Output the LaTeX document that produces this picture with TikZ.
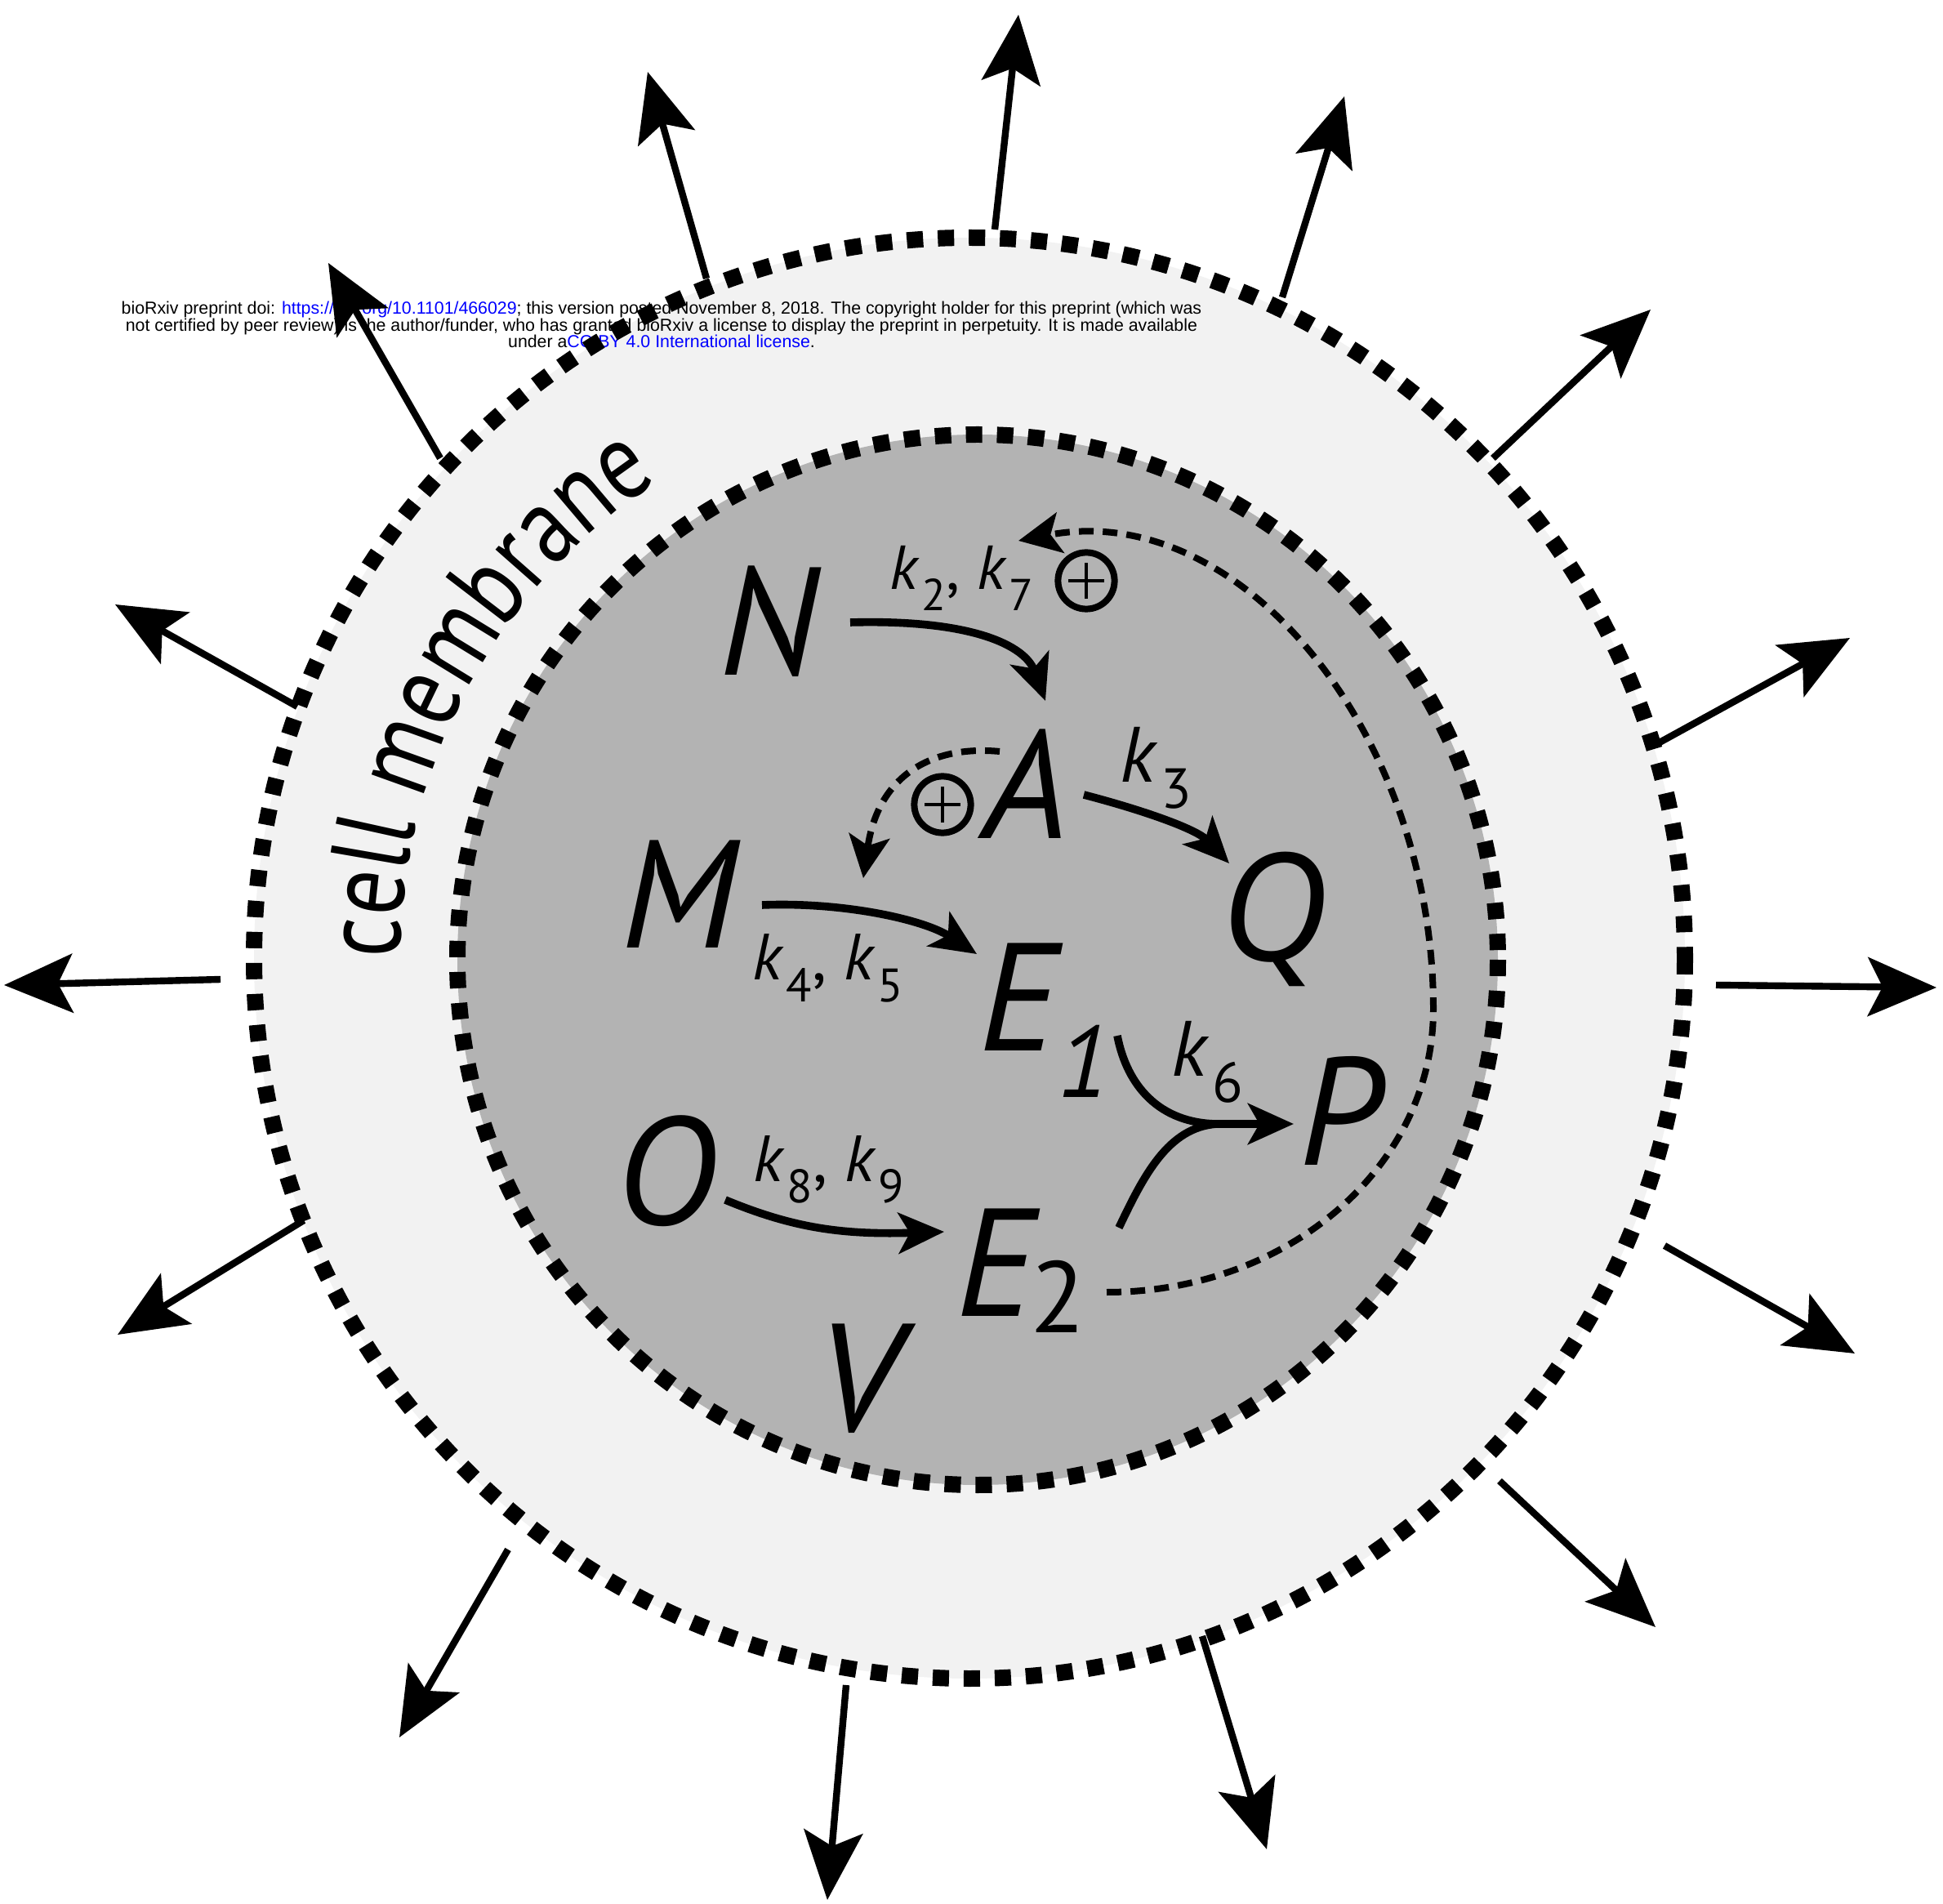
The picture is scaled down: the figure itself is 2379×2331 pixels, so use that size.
\documentclass[tikz,border=0pt]{standalone}
\usepackage{fontspec}
\usepackage{graphicx}
\setmainfont{PT Sans}
\newfontfamily\hdrfont{Liberation Sans}
\newfontfamily\cmfont[FakeStretch=0.8]{PT Sans}
\newfontfamily\qfont{Open Sans}
\usetikzlibrary{arrows.meta,decorations.text}
\definecolor{linkblue}{RGB}{0,0,255}
\definecolor{ringfill}{RGB}{242,242,242}
\definecolor{cellfill}{RGB}{179,179,179}
\newcommand\kk[1]{\textit{k}\kern0.03em\raisebox{-0.33em}{\scalebox{0.72}{#1}}}
\newcommand\cmstyle{\cmfont\fontsize{34}{34}\selectfont}
\begin{document}
\begin{tikzpicture}[x=0.25pt,y=-0.25pt,
  dotring/.style={line width=5pt, dash pattern=on 5pt off 4.5pt},
  outarrow/.style={line width=2.1pt, -{Stealth[length=21pt,width=18pt,inset=4.5pt]}},
  rxn/.style={line width=2.4pt, -{Stealth[length=14pt,width=12.5pt,inset=3.5pt]}},
  rxnplain/.style={line width=2.4pt},
  fbarrow/.style={line width=2pt, dash pattern=on 4.5pt off 2.8pt, -{Stealth[length=13pt,width=12.5pt,inset=3pt]}},
  species/.style={inner sep=0pt, anchor=base, font=\fontsize{47}{47}\selectfont\itshape},
  esub/.style={inner sep=0pt, anchor=base, font=\fontsize{31}{31}\selectfont},
  rate/.style={inner sep=0pt, anchor=base west},
  hdr/.style={inner sep=0pt, anchor=base, font=\hdrfont\fontsize{5.33}{6}\selectfont},
  plusnode/.style={circle, draw, line width=2pt, minimum size=17.3pt, inner sep=0pt,
    path picture={\draw[line width=0.9pt]
      ([xshift=-5.4pt]path picture bounding box.center) -- ([xshift=5.4pt]path picture bounding box.center)
      ([yshift=-5.4pt]path picture bounding box.center) -- ([yshift=5.4pt]path picture bounding box.center);}},
]
\useasboundingbox (0,0) rectangle (2379,2331);
\fill[white] (0,0) rectangle (2379,2331);

% cell and membrane
\fill[ringfill] (1187,1173) ellipse[x radius=876, y radius=882];
\fill[cellfill] (1197,1175) ellipse[x radius=637, y radius=643];

% header
\node[hdr] (hdr1) at (810,385) {bioRxiv preprint doi: \textcolor{linkblue}{https://doi.org/10.1101/466029}; this version posted November 8, 2018. The copyright holder for this preprint (which was};
\node[hdr] (hdr2) at (810,406) {not certified by peer review) is the author/funder, who has granted bioRxiv a license to display the preprint in perpetuity. It is made available};
\node[hdr] (hdr3) at (810,426) {under a\textcolor{linkblue}{CC-BY 4.0 International license}.};

% dotted rings
\draw[dotring] (1187,1173) ellipse[x radius=876, y radius=882];
\draw[dotring] (1197,1175) ellipse[x radius=637, y radius=643];

% cell membrane label
\path[decorate, decoration={text along path, text={|\cmstyle|cell membrane}, text align=left}]
  (490,1174) arc[start angle=180, end angle=250, radius=700];

% outward arrows
\coordinate (o1s) at (1218,281);  \coordinate (o1e) at (1247,18);
\coordinate (o2s) at (1570,364);  \coordinate (o2e) at (1646,118);
\coordinate (o3s) at (1828,561);  \coordinate (o3e) at (2021,379);
\coordinate (o4s) at (2030,910);  \coordinate (o4e) at (2265,781);
\coordinate (o5s) at (2101,1206); \coordinate (o5e) at (2371,1209);
\coordinate (o6s) at (2038,1525); \coordinate (o6e) at (2271,1657);
\coordinate (o7s) at (1836,1813); \coordinate (o7e) at (2027,1992);
\coordinate (o8s) at (1472,2003); \coordinate (o8e) at (1551,2264);
\coordinate (o9s) at (1036,2063); \coordinate (o9e) at (1013,2326);
\coordinate (o10s) at (622,1897); \coordinate (o10e) at (489,2127);
\coordinate (o11s) at (372,1494); \coordinate (o11e) at (144,1634);
\coordinate (o12s) at (270,1199); \coordinate (o12e) at (5,1206);
\coordinate (o13s) at (364,865);  \coordinate (o13e) at (141,740);
\coordinate (o14s) at (539,561);  \coordinate (o14e) at (402,322);
\coordinate (o15s) at (865,341);  \coordinate (o15e) at (793,88);
\foreach \i in {1,...,15}{\draw[outarrow] (o\i s) -- (o\i e);}

% species
\node[species] (N) at (941,827) {N};
\node[species] (A) at (1256,1027) {A};
\node[species] (M) at (831,1161) {M};
\node[species, font=\qfont\fontsize{46}{46}\selectfont\itshape] (Q) at (1561,1177) {Q};
\node[species] (E1) at (1246,1287) {E};
\node[esub, font=\fontsize{31}{31}\selectfont\itshape] (s1) at (1327,1343) {1};
\node[species] (P) at (1640,1426) {P};
\node[species] (O) at (816,1499) {O};
\node[species] (E2) at (1218,1611) {E};
\node[esub] (s2) at (1295,1631) {2};
\node[species] (V) at (1050,1752) {V};

% rate labels
\node[rate, font=\fontsize{19}{19}\selectfont] (k27) at (1089,722) {\kk{2}, \kk{7}};
\node[rate, font=\fontsize{24}{24}\selectfont] (k3) at (1371,958) {\kk{3}};
\node[rate, font=\fontsize{20}{20}\selectfont] (k45) at (921,1200) {\kk{4}, \kk{5}};
\node[rate, font=\fontsize{24}{24}\selectfont] (k6) at (1434,1318) {\kk{6}};
\node[rate, font=\fontsize{20}{20}\selectfont] (k89) at (922,1446) {\kk{8}, \kk{9}};

% plus signs
\node[plusnode] (plus1) at (1330,711) {};
\node[plusnode] (plus2) at (1154,985) {};

% reaction arrows
\coordinate (NAs) at (1041,762);  \coordinate (NAe) at (1280,858);
\draw[rxn] (NAs) .. controls (1190,758) and (1255,790) .. (NAe);
\coordinate (AQs) at (1327,973);  \coordinate (AQe) at (1505,1057);
\draw[rxn] (AQs) .. controls (1400,992) and (1465,1015) .. (AQe);
\coordinate (MEs) at (933,1108);  \coordinate (MEe) at (1196,1168);
\draw[rxn] (MEs) .. controls (1030,1104) and (1130,1125) .. (MEe);
\coordinate (OEs) at (888,1469);  \coordinate (OEe) at (1156,1508);
\draw[rxn] (OEs) .. controls (970,1503) and (1030,1512) .. (OEe);
\coordinate (E1Ps) at (1368,1268); \coordinate (jn) at (1490,1376); \coordinate (Pe) at (1584,1376);
\coordinate (E2Ps) at (1370,1503);
\draw[rxn] (E1Ps) .. controls (1380,1330) and (1420,1375) .. (jn) -- (Pe);
\draw[rxnplain] (E2Ps) .. controls (1400,1440) and (1430,1380) .. (jn);

% feedback arrows
\coordinate (fAs) at (1224,920); \coordinate (fAe) at (1057,1075);
\draw[fbarrow] (fAs) .. controls (1140,912) and (1075,950) .. (fAe);
\coordinate (fEs) at (1355,1582); \coordinate (fEm) at (1755,1235); \coordinate (fEe) at (1247,662);
\draw[fbarrow] (fEs) .. controls (1575,1582) and (1755,1430) .. (fEm)
  .. controls (1755,900) and (1520,610) .. (fEe);
\end{tikzpicture}
\end{document}
